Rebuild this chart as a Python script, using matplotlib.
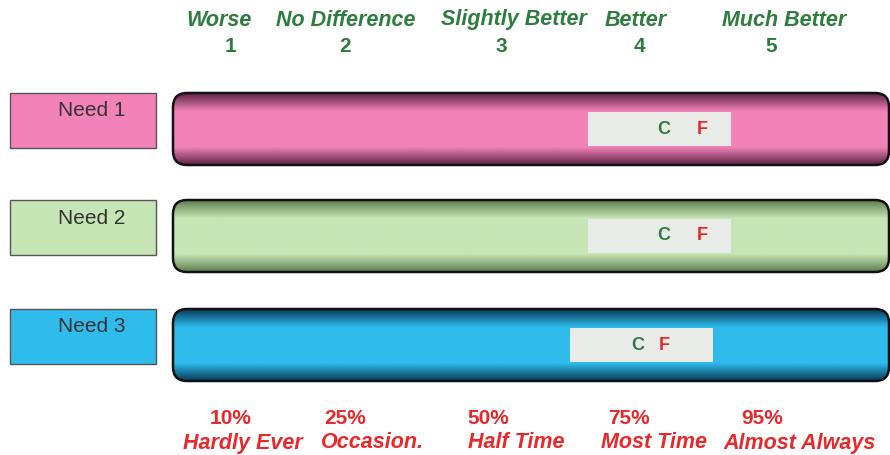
import numpy as np
import matplotlib
matplotlib.use("Agg")
import matplotlib.pyplot as plt
from matplotlib.patches import FancyBboxPatch, Rectangle
from matplotlib.colors import LinearSegmentedColormap

plt.rcParams['font.family'] = ['Liberation Sans', 'DejaVu Sans']

# --- data ---
needs = ["Need 1", "Need 2", "Need 3"]
scale_values = [1, 2, 3, 4, 5]
scale_labels = ["Worse", "No Difference", "Slightly Better", "Better", "Much Better"]
freq_pct = ["10%", "25%", "50%", "75%", "95%"]
freq_labels = ["Hardly Ever", "Occasion.", "Half Time", "Most Time", "Almost Always"]
band_lo = [3.63, 3.63, 3.50]
band_hi = [4.70, 4.70, 4.56]
c_scores = [4.19, 4.19, 3.99]
f_scores = [4.48, 4.48, 4.19]

# --- layout (pixels) ---
W, H = 890, 455
score_px = [231, 345, 501, 639, 771]        # where each scale point sits
top_label_x = [219, 346, 514, 636, 784]
pct_x = [231, 345, 488, 629, 762]
freq_x = [243, 372, 516, 654, 800]
row_y = [129, 236, 345]
bar_x0, bar_x1, bar_h = 173, 889, 72
lab_x0, lab_x1, lab_h = 10, 156, 55

fill = ["#F282B8", "#C6E6B6", "#2FBCEC"]
edge = ["#5E2444", "#5F7F50", "#083A58"]
green = "#2E7D3E"
red = "#E8282A"


def to_px(v):
    return np.interp(v, scale_values, score_px)


fig = plt.figure(figsize=(W / 100, H / 100), dpi=100)
ax = fig.add_axes([0, 0, 1, 1])
ax.set_xlim(0, W)
ax.set_ylim(H, 0)
ax.axis('off')

# scale headers
for x, lab in zip(top_label_x, scale_labels):
    ax.text(x, 20, lab, ha='center', va='center', fontsize=15.5,
            fontweight='bold', style='italic', color=green, fontstretch='condensed')
for v, x in zip(scale_values, score_px):
    ax.text(x, 46, str(v), ha='center', va='center', fontsize=15,
            fontweight='bold', color=green)

# frequency footers
for x, lab in zip(pct_x, freq_pct):
    ax.text(x, 418, lab, ha='center', va='center', fontsize=15,
            fontweight='bold', color=red)
for x, lab in zip(freq_x, freq_labels):
    ax.text(x, 443, lab, ha='center', va='center', fontsize=15.5,
            fontweight='bold', style='italic', color=red)

for i, name in enumerate(needs):
    yc = row_y[i]
    top = yc - bar_h / 2

    # label box on the left
    ax.add_patch(Rectangle((lab_x0, top), lab_x1 - lab_x0, lab_h,
                           facecolor=fill[i], edgecolor='#555555', lw=1))
    ax.text(92, top + 18, name, ha='center', va='center', fontsize=15,
            color='#333333')

    # tube with vertical shading
    cmap = LinearSegmentedColormap.from_list(
        f"tube{i}", [edge[i], fill[i], fill[i], fill[i], edge[i]])
    grad = np.linspace(0, 1, 200).reshape(-1, 1)
    img = ax.imshow(grad, cmap=cmap, aspect='auto',
                    extent=(bar_x0, bar_x1, top + bar_h, top), zorder=1)
    tube = FancyBboxPatch((bar_x0 + 14, top + 14), bar_x1 - bar_x0 - 28, bar_h - 28,
                          boxstyle="round,pad=14", facecolor='none',
                          edgecolor='#111111', lw=1.8, zorder=2)
    ax.add_patch(tube)
    img.set_clip_path(tube)

    # C / F band
    lo, hi = to_px(band_lo[i]), to_px(band_hi[i])
    ax.add_patch(Rectangle((lo, yc - 17), hi - lo, 34, facecolor='#E9EBE9',
                           edgecolor='none', zorder=3))
    ax.text(to_px(c_scores[i]), yc, "C", ha='center', va='center', fontsize=13,
            fontweight='bold', color=green, zorder=4)
    ax.text(to_px(f_scores[i]), yc, "F", ha='center', va='center', fontsize=13,
            fontweight='bold', color=red, zorder=4)

fig.savefig("out.png", dpi=100)
